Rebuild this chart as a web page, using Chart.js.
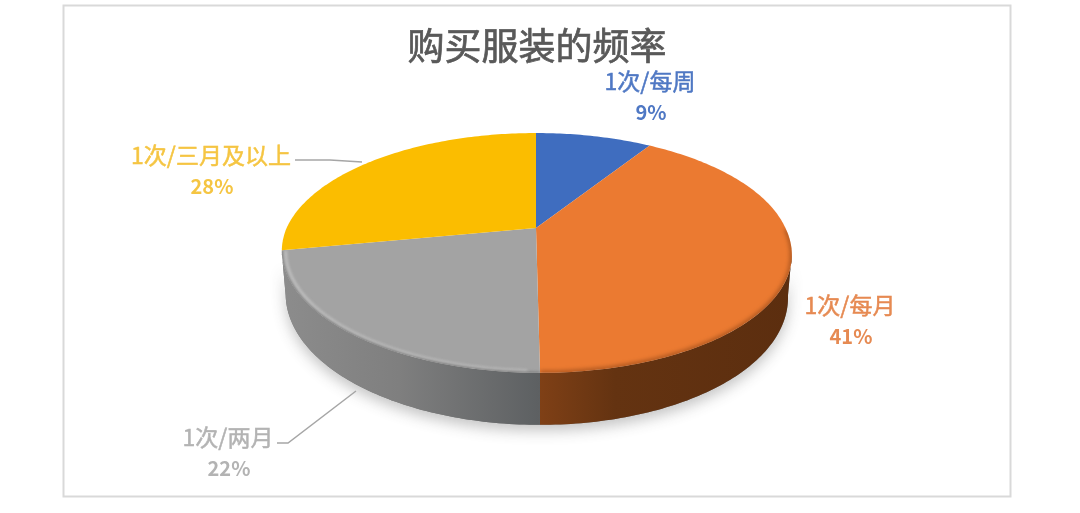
<!DOCTYPE html>
<html>
<head>
<meta charset="utf-8">
<style>
  html, body { margin: 0; padding: 0; background: #fff; }
  canvas { display: block; }
</style>
</head>
<body>
<canvas id="pieChart" width="1080" height="513"></canvas>
<script src="https://cdn.jsdelivr.net/npm/chart.js@4"></script>
<script>
const titleText = '购买服装的频率';
const categories = ['1次/每周', '1次/每月', '1次/两月', '1次/三月及以上'];
const shares = [9, 41, 22, 28];

const sliceColors = ['#3f6dbf', '#eb7a31', '#a3a3a3', '#fbbd00'];
const labelColors = ['#4f78c4', '#e68a52', '#b3b3b3', '#f5c542'];
const labelSpots = [[650, 81], [850, 305], [228, 437], [211, 155]];
const labelGap = 31;
const FONT = '"Noto Sans CJK SC", "Noto Sans", sans-serif';

// pie lid as seen in perspective, the hub sits above the middle of the ellipse
const hubX = 536, hubY = 228;
const tilt = -0.208, lidX = 249.4, lidY = 67.3;

function rim(a) {
  const v = Math.sin(a);
  const w = 1 + tilt * v;
  return [hubX + lidX * Math.cos(a) / w + 4 * Math.max(0, v), (hubY + lidY * v) / w];
}

function rimBelow(a) {
  const p = rim(a);
  return [hubX + (p[0] - hubX) * 0.985, p[1] + 40 + 12 * Math.max(0, Math.sin(a))];
}

function sampleAngles(a, b) {
  const out = [];
  const n = Math.max(2, Math.ceil((b - a) * 60));
  for (let i = 0; i <= n; i++) out.push(a + (b - a) * i / n);
  return out;
}

function wallPath(ctx, a, b) {
  const angles = sampleAngles(a, b);
  ctx.beginPath();
  angles.forEach((t, i) => {
    const p = rim(t);
    if (i === 0) ctx.moveTo(p[0], p[1]); else ctx.lineTo(p[0], p[1]);
  });
  angles.slice().reverse().forEach(t => {
    const p = rimBelow(t);
    ctx.lineTo(p[0], p[1]);
  });
  ctx.closePath();
}

function slicePath(ctx, arc) {
  ctx.beginPath();
  ctx.moveTo(hubX, hubY);
  sampleAngles(arc.startAngle, arc.endAngle).forEach(t => {
    const p = rim(t);
    ctx.lineTo(p[0], p[1]);
  });
  ctx.closePath();
}

function strokeRim(ctx, a, b, shrink, color, width, blur) {
  ctx.save();
  ctx.strokeStyle = color;
  ctx.lineWidth = width;
  ctx.filter = 'blur(' + blur + 'px)';
  ctx.beginPath();
  sampleAngles(a, b).forEach((t, i) => {
    const p = rim(t);
    const x = hubX + (p[0] - hubX) * shrink;
    const y = 253 + (p[1] - 253) * shrink;
    if (i === 0) ctx.moveTo(x, y); else ctx.lineTo(x, y);
  });
  ctx.stroke();
  ctx.restore();
}

const pie3d = {
  id: 'pie3d',
  beforeDraw(chart) {
    const ctx = chart.ctx;
    ctx.save();
    ctx.fillStyle = '#fff';
    ctx.fillRect(0, 0, chart.width, chart.height);
    ctx.strokeStyle = '#d9d9d9';
    ctx.lineWidth = 2;
    ctx.strokeRect(63.5, 5.5, 947, 491);
    ctx.restore();
  },
  beforeDatasetsDraw(chart) {
    const ctx = chart.ctx;
    const arcs = chart.getDatasetMeta(0).data;
    const lo = Math.asin(-tilt), hi = Math.PI - lo;

    // soft shadow under the disc
    ctx.save();
    ctx.shadowColor = 'rgba(60,60,60,0.3)';
    ctx.shadowBlur = 14;
    ctx.shadowOffsetY = 6;
    ctx.fillStyle = '#777';
    wallPath(ctx, lo, hi);
    ctx.fill();
    ctx.restore();

    // walls, only the orange and the grey slice reach the front
    const orangeWall = ctx.createLinearGradient(540, 0, 790, 0);
    orangeWall.addColorStop(0, '#7f4016');
    orangeWall.addColorStop(0.3, '#643311');
    orangeWall.addColorStop(1, '#5c2e0f');
    const greyWall = ctx.createLinearGradient(283, 0, 540, 0);
    greyWall.addColorStop(0, '#8c8c8c');
    greyWall.addColorStop(0.45, '#7f7f7f');
    greyWall.addColorStop(1, '#5d6062');
    const wallFills = [null, orangeWall, greyWall, null];

    arcs.forEach((arc, i) => {
      if (!wallFills[i]) return;
      const a = Math.max(arc.startAngle, lo);
      const b = Math.min(arc.endAngle, hi);
      if (b <= a) return;
      ctx.fillStyle = wallFills[i];
      wallPath(ctx, a, b);
      ctx.fill();
    });

    // lid
    arcs.forEach((arc, i) => {
      slicePath(ctx, arc);
      ctx.fillStyle = sliceColors[i];
      ctx.fill();
    });

    // bevel along the front edge, kept inside the slice it belongs to
    ctx.save();
    slicePath(ctx, arcs[2]);
    ctx.clip();
    strokeRim(ctx, arcs[2].startAngle + 0.04, arcs[2].endAngle, 0.985, 'rgba(215,215,215,0.8)', 2, 1.5);
    strokeRim(ctx, arcs[2].startAngle, arcs[2].endAngle, 1.005, 'rgba(105,105,105,0.8)', 3, 1.5);
    ctx.restore();

    ctx.save();
    slicePath(ctx, arcs[1]);
    ctx.clip();
    strokeRim(ctx, lo - 0.2, Math.PI / 2, 1, 'rgba(130,62,20,0.8)', 3, 2);
    ctx.restore();

    return false;
  },
  afterDraw(chart) {
    const ctx = chart.ctx;
    ctx.save();

    // the reference title is a little heavier than the regular face
    ctx.textAlign = 'center';
    ctx.textBaseline = 'middle';
    ctx.font = '37px ' + FONT;
    ctx.strokeStyle = '#595959';
    ctx.lineWidth = 0.7;
    ctx.strokeText(titleText, (chart.titleBlock.left + chart.titleBlock.right) / 2, chart.titleBlock.top + 24 + 22.2);

    // leader lines
    ctx.strokeStyle = '#a6a6a6';
    ctx.lineWidth = 1.5;
    ctx.beginPath();
    ctx.moveTo(295, 160); ctx.lineTo(330, 160); ctx.lineTo(362, 162);
    ctx.moveTo(277, 443); ctx.lineTo(288, 443); ctx.lineTo(356, 391);
    ctx.stroke();

    categories.forEach((name, i) => {
      const [x, y] = labelSpots[i];
      ctx.fillStyle = labelColors[i];
      ctx.strokeStyle = labelColors[i];
      ctx.lineWidth = 0.5;
      ctx.font = '23px ' + FONT;
      ctx.fillText(name, x, y);
      ctx.strokeText(name, x, y);
      ctx.font = 'bold 20px ' + FONT;
      ctx.fillText(shares[i] + '%', x + 1, y + labelGap);
    });
    ctx.restore();
  }
};

document.addEventListener('DOMContentLoaded', () => {
  new Chart(document.getElementById('pieChart'), {
    type: 'pie',
    data: {
      labels: categories,
      datasets: [{ data: shares, backgroundColor: sliceColors, borderWidth: 0 }]
    },
    options: {
      responsive: false,
      animation: false,
      layout: { padding: { right: 6 } },
      plugins: {
        legend: { display: false },
        tooltip: { enabled: false },
        title: {
          display: true,
          text: titleText,
          color: '#595959',
          font: { family: FONT, size: 37, weight: 'normal' },
          padding: { top: 24, bottom: 10 }
        }
      }
    },
    plugins: [pie3d]
  });
});
</script>
</body>
</html>
